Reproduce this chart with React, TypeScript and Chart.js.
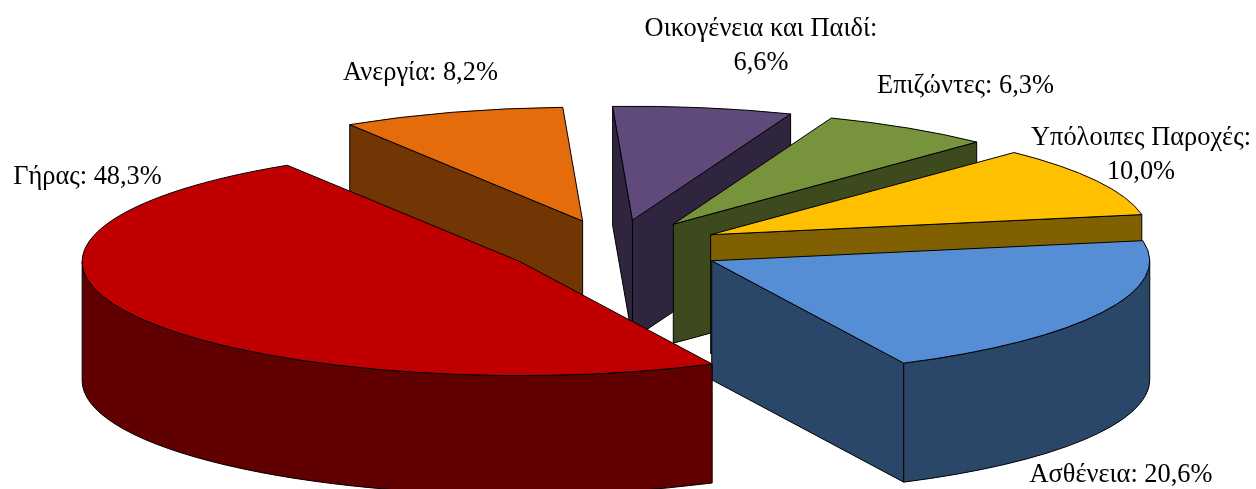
import React, { useEffect, useRef } from "react";
import { Chart, registerables } from "chart.js";

Chart.register(...registerables);

const categories = ["Γήρας", "Ανεργία", "Οικογένεια και Παιδί", "Επιζώντες", "Υπόλοιπες Παροχές", "Ασθένεια"];
const values = [48.3, 8.2, 6.6, 6.3, 10.0, 20.6];
const topColors = ["#C00000", "#E46C0A", "#604A7B", "#77933C", "#FFC000", "#558ED5"];
const wallColors = ["#600000", "#723605", "#30253E", "#3C4A1E", "#806000", "#2A4769"];

const fmt = (i: number) => `${values[i].toFixed(1).replace(".", ",")}%`;
const labelLines = [
  [`${categories[0]}: ${fmt(0)}`],
  [`${categories[1]}: ${fmt(1)}`],
  [`${categories[2]}:`, fmt(2)],
  [`${categories[3]}: ${fmt(3)}`],
  [`${categories[4]}:`, fmt(4)],
  [`${categories[5]}: ${fmt(5)}`],
];
// label centre x, first-line centre y
const labelAnchors = [
  [87.5, 177],
  [420.5, 73],
  [761, 29],
  [965.5, 86],
  [1141, 138],
  [1121, 475],
];

const TILT = 0.26;
const DEPTH = 119;
const LINE_HEIGHT = 34;
const FONT = '26.4px "Liberation Serif"';

const pie3d = {
  id: "pie3d",
  beforeDatasetsDraw(chart: any) {
    const ctx: CanvasRenderingContext2D = chart.ctx;
    const arcs = chart.getDatasetMeta(0).data.map((arc: any, i: number) => {
      const mid = (arc.startAngle + arc.endAngle) / 2;
      const off = (arc.options.offset || 0) / 4;
      const a = arc.outerRadius;
      return {
        i,
        mid,
        s: arc.startAngle,
        e: arc.endAngle,
        a,
        b: a * TILT,
        x: arc.x + Math.cos(mid) * off,
        y: arc.y + Math.sin(mid) * off * TILT,
      };
    });
    arcs.sort((p: any, q: any) => Math.sin(p.mid) - Math.sin(q.mid));

    ctx.save();
    ctx.lineWidth = 1;
    ctx.strokeStyle = "#000000";
    ctx.lineJoin = "round";
    const paint = (fill: string) => {
      ctx.fillStyle = fill;
      ctx.fill();
      ctx.stroke();
    };
    for (const p of arcs) {
      const wall = wallColors[p.i];
      const edge = (t: number) => {
        const ex = p.x + p.a * Math.cos(t);
        const ey = p.y + p.b * Math.sin(t);
        ctx.beginPath();
        ctx.moveTo(p.x, p.y);
        ctx.lineTo(ex, ey);
        ctx.lineTo(ex, ey + DEPTH);
        ctx.lineTo(p.x, p.y + DEPTH);
        ctx.closePath();
        paint(wall);
      };
      if (Math.sin(p.s - Math.PI / 2) > 0) edge(p.s);
      if (Math.sin(p.e + Math.PI / 2) > 0) edge(p.e);
      // outer rim: only the parts on the near half of the ellipse
      for (const base of [0, 2 * Math.PI]) {
        const lo = Math.max(p.s, base);
        const hi = Math.min(p.e, base + Math.PI);
        if (hi > lo) {
          ctx.beginPath();
          ctx.ellipse(p.x, p.y, p.a, p.b, 0, lo, hi, false);
          ctx.ellipse(p.x, p.y + DEPTH, p.a, p.b, 0, hi, lo, true);
          ctx.closePath();
          paint(wall);
        }
      }
      ctx.beginPath();
      ctx.moveTo(p.x, p.y);
      ctx.ellipse(p.x, p.y, p.a, p.b, 0, p.s, p.e, false);
      ctx.closePath();
      paint(topColors[p.i]);
    }
    ctx.font = FONT;
    ctx.fillStyle = "#000000";
    ctx.textAlign = "center";
    ctx.textBaseline = "middle";
    labelLines.forEach((lines, i) => {
      lines.forEach((line, j) => {
        ctx.fillText(line, labelAnchors[i][0], labelAnchors[i][1] + j * LINE_HEIGHT);
      });
    });
    ctx.restore();
    return false;
  },
};

export default function App() {
  const ref = useRef<HTMLCanvasElement>(null);
  useEffect(() => {
    const chart = new Chart(ref.current!, {
      type: "pie",
      data: {
        labels: categories,
        datasets: [
          {
            data: values,
            backgroundColor: topColors,
            offset: 434,
            borderWidth: 0,
            clip: false,
          } as any,
        ],
      },
      options: {
        animation: false,
        responsive: false,
        rotation: 154,
        radius: 438,
        layout: { padding: { left: 0, right: 26, top: 7, bottom: 0 } },
        plugins: { legend: { display: false }, tooltip: { enabled: false } },
      } as any,
      plugins: [pie3d],
    });
    return () => chart.destroy();
  }, []);
  return (
    <div style={{ position: "absolute", left: 0, top: 0, width: 1256, height: 489, overflow: "hidden", background: "#fff" }}>
      <canvas ref={ref} width={1256} height={489} style={{ display: "block" }} />
    </div>
  );
}
